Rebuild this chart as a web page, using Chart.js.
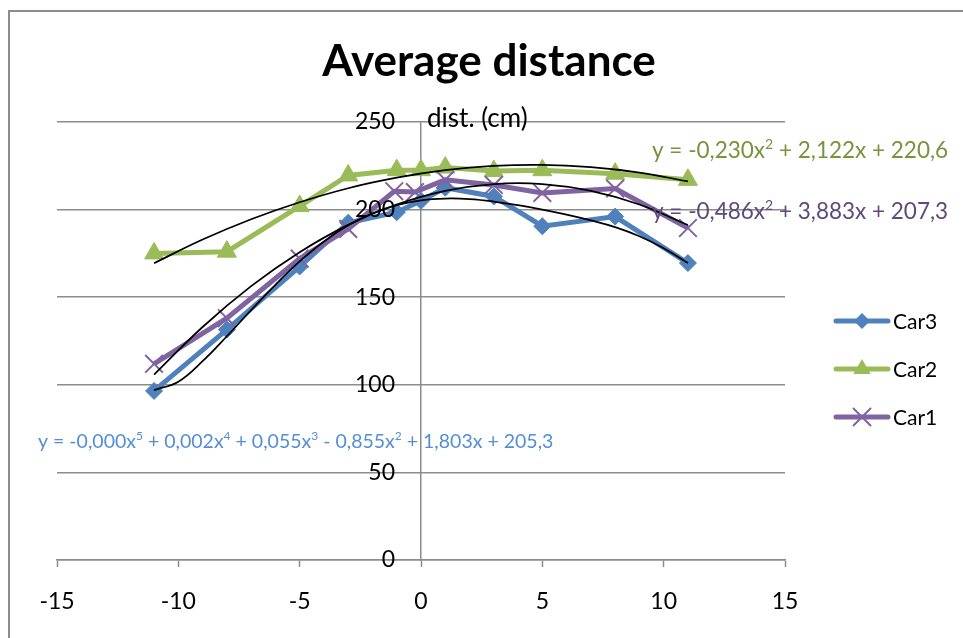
<!DOCTYPE html>
<html>
<head>
<meta charset="utf-8">
<script src="https://cdn.jsdelivr.net/npm/chart.js@4/dist/chart.umd.min.js"></script>
<style>
  html, body { margin: 0; padding: 0; background: #fff; }
  #wrap { width: 963px; height: 638px; position: relative; }
</style>
</head>
<body>
<div id="wrap"><canvas id="chart"></canvas></div>
<script>
// measured points
const xCar3 = [-11, -8, -5, -3, -1, 0, 1, 3, 5, 8, 11];
const yCar3 = [96.5, 131.5, 167.5, 192.5, 198.5, 205, 212.5, 207.5, 190.5, 196, 169.5];
const xCar2 = [-11, -8, -5, -3, -1, 0, 1, 3, 5, 8, 11];
const yCar2 = [175, 176, 202, 219.5, 222.5, 222.5, 224, 222, 222.5, 220.5, 217];
const xCar1 = [-11, -8, -5, -3, -1.1, -0.25, 1, 3, 5, 8, 11];
const yCar1 = [112, 138, 172, 189, 210.5, 210, 217, 214, 209.5, 212, 189.5];

// trendlines
const xTrend3 = [-11, -10, -9, -8, -7, -6, -5, -4, -3, -2, -1, 0, 1, 2, 3, 4, 5, 6, 7, 8, 9, 10, 11];
const yTrend3 = [97, 101.8, 113.5, 127.7, 142.6, 157.1, 170.4, 181.8, 191, 197.9, 202.6, 205.3, 206.3,
                 206, 204.6, 202.5, 200, 197.1, 193.8, 190, 184.8, 178, 169.5];
const xTrendQ = [-11, -9, -7, -5, -3, -1, 1, 3, 5, 7, 9, 11];
const yTrend2 = [169.4, 182.9, 194.5, 204.2, 212.2, 218.2, 222.5, 224.9, 225.5, 224.2, 221.1, 216.1];
const yTrend1 = [105.8, 133, 156.3, 175.7, 191.3, 202.9, 210.7, 214.6, 214.6, 210.7, 202.9, 191.2];

const xTicks = { min: -15, max: 15, step: 5 };
const yTicks = { min: 0, max: 250, step: 50 };

const seriesNames = ['Car3', 'Car2', 'Car1'];
// ^n marks a superscript digit
const equations = [
  'y = -0,000x^5 + 0,002x^4 + 0,055x^3 - 0,855x^2 + 1,803x + 205,3',
  'y = -0,230x^2 + 2,122x + 220,6',
  'y = -0,486x^2 + 3,883x + 207,3'
];

const COLORS = {
  car3: '#4F81BD',
  car2: '#9BBB59',
  car1: '#8064A2',
  eq3: '#558ED5',
  eq2: '#77933C',
  eq1: '#5F497A',
  grid: '#8C8C8C'
};

const FONT = 'Lato, "Open Sans", sans-serif';

function pts(xs, ys) {
  return xs.map((x, i) => ({ x, y: ys[i] }));
}

function drawRich(ctx, text, x, y, size) {
  const parts = text.split(/\^(\d)/);
  let cx = x;
  parts.forEach((p, i) => {
    if (i % 2 === 1) {
      ctx.font = Math.round(size * 0.62) + 'px ' + FONT;
      ctx.fillText(p, cx, y - size * 0.4);
    } else {
      ctx.font = size + 'px ' + FONT;
      ctx.fillText(p, cx, y);
    }
    cx += ctx.measureText(p).width;
  });
}

function drawMarker(ctx, style, x, y, r, color, bw) {
  ctx.save();
  ctx.fillStyle = color;
  ctx.strokeStyle = color;
  ctx.lineWidth = bw;
  ctx.beginPath();
  if (style === 'rectRot') {
    ctx.moveTo(x, y - r); ctx.lineTo(x + r, y); ctx.lineTo(x, y + r); ctx.lineTo(x - r, y);
    ctx.closePath(); ctx.fill();
  } else if (style === 'triangle') {
    ctx.moveTo(x, y - r); ctx.lineTo(x + r * 0.866, y + r / 2); ctx.lineTo(x - r * 0.866, y + r / 2);
    ctx.closePath(); ctx.fill();
  } else {
    const d = r * Math.SQRT1_2;
    ctx.moveTo(x - d, y - d); ctx.lineTo(x + d, y + d);
    ctx.moveTo(x + d, y - d); ctx.lineTo(x - d, y + d);
    ctx.stroke();
  }
  ctx.restore();
}

const decor = {
  id: 'decor',
  beforeDraw(chart) {
    const ctx = chart.ctx;
    ctx.save();
    ctx.strokeStyle = COLORS.grid;
    ctx.lineWidth = 2;
    ctx.beginPath();
    ctx.moveTo(9, 638); ctx.lineTo(9, 11); ctx.lineTo(963, 11);
    ctx.stroke();
    ctx.restore();
  },
  afterDatasetsDraw(chart) {
    // y tick labels sit left of the y axis (which crosses at x = 0)
    const ctx = chart.ctx;
    const ys = chart.scales.y;
    const axisX = chart.scales.x.getPixelForValue(0);
    ctx.save();
    ctx.fillStyle = '#000';
    ctx.font = '23px ' + FONT;
    ctx.textAlign = 'right';
    ctx.textBaseline = 'middle';
    ys.ticks.forEach(t => {
      ctx.fillText(String(t.value), axisX - 26, ys.getPixelForValue(t.value));
    });
    ctx.restore();
  },
  afterDraw(chart) {
    const ctx = chart.ctx;
    ctx.save();
    ctx.textBaseline = 'alphabetic';

    // title
    ctx.fillStyle = '#000';
    ctx.font = 'bold 44px ' + FONT;
    ctx.textAlign = 'center';
    ctx.fillText('Average distance', 489, 76);

    // axis title
    ctx.font = '26px ' + FONT;
    ctx.textAlign = 'left';
    ctx.fillText('dist. (cm)', 427, 127);

    // trendline equations
    ctx.fillStyle = COLORS.eq2;
    drawRich(ctx, equations[1], 652, 158, 22.5);
    ctx.fillStyle = COLORS.eq1;
    drawRich(ctx, equations[2], 652, 219, 22.5);
    ctx.fillStyle = COLORS.eq3;
    drawRich(ctx, equations[0], 38, 448, 19.5);

    // legend
    const items = [
      { name: seriesNames[0], color: COLORS.car3, style: 'rectRot', r: 8, bw: 1 },
      { name: seriesNames[1], color: COLORS.car2, style: 'triangle', r: 10, bw: 1 },
      { name: seriesNames[2], color: COLORS.car1, style: 'crossRot', r: 12, bw: 2 }
    ];
    const rowY = [321, 369, 417];
    ctx.font = '21px ' + FONT;
    items.forEach((it, i) => {
      const y = rowY[i];
      ctx.strokeStyle = it.color;
      ctx.lineWidth = 5;
      ctx.lineCap = 'round';
      ctx.beginPath();
      ctx.moveTo(836, y); ctx.lineTo(888, y);
      ctx.stroke();
      drawMarker(ctx, it.style, 862, y, it.r, it.color, it.bw);
      ctx.fillStyle = '#000';
      ctx.textBaseline = 'middle';
      ctx.fillText(it.name, 893, y + 1);
    });
    ctx.restore();
  }
};

const lineSeries = (label, xs, ys, color, style, r, bw, order) => ({
  label,
  data: pts(xs, ys),
  showLine: true,
  borderColor: color,
  backgroundColor: color,
  borderWidth: 5,
  pointStyle: style,
  pointRadius: r,
  pointBorderWidth: bw,
  pointBackgroundColor: color,
  pointBorderColor: color,
  tension: 0,
  order
});

const trendSeries = (label, xs, ys) => ({
  label,
  data: pts(xs, ys),
  showLine: true,
  borderColor: '#000',
  borderWidth: 1.75,
  pointRadius: 0,
  tension: 0.4,
  order: 0
});

new Chart(document.getElementById('chart'), {
  type: 'scatter',
  data: {
    datasets: [
      lineSeries('Car3', xCar3, yCar3, COLORS.car3, 'rectRot', 8.5, 1, 3),
      lineSeries('Car2', xCar2, yCar2, COLORS.car2, 'triangle', 11, 1, 2),
      lineSeries('Car1', xCar1, yCar1, COLORS.car1, 'crossRot', 12.5, 2, 1),
      trendSeries('Trend Car3', xTrend3, yTrend3),
      trendSeries('Trend Car2', xTrendQ, yTrend2),
      trendSeries('Trend Car1', xTrendQ, yTrend1)
    ]
  },
  options: {
    responsive: true,
    maintainAspectRatio: false,
    animation: false,
    layout: { padding: { left: 57, right: 178, top: 122, bottom: 0 } },
    plugins: {
      legend: { display: false },
      tooltip: { enabled: false },
      title: { display: false }
    },
    scales: {
      x: {
        type: 'linear',
        position: 'bottom',
        min: xTicks.min,
        max: xTicks.max,
        ticks: {
          stepSize: xTicks.step,
          color: '#000',
          padding: 21,
          font: { family: FONT, size: 23 }
        },
        grid: {
          drawOnChartArea: false,
          drawTicks: true,
          tickLength: 7,
          tickWidth: 1.5,
          tickColor: COLORS.grid
        },
        border: { display: true, color: COLORS.grid, width: 1.5 },
        afterFit: (scale) => { scale.height = 78; }
      },
      y: {
        type: 'linear',
        position: { x: 0 },
        min: yTicks.min,
        max: yTicks.max,
        ticks: {
          stepSize: yTicks.step,
          display: false
        },
        grid: {
          color: COLORS.grid,
          lineWidth: 1.5,
          drawTicks: false
        },
        border: { display: true, color: COLORS.grid, width: 1.5 }
      }
    }
  },
  plugins: [decor]
});
</script>
</body>
</html>
